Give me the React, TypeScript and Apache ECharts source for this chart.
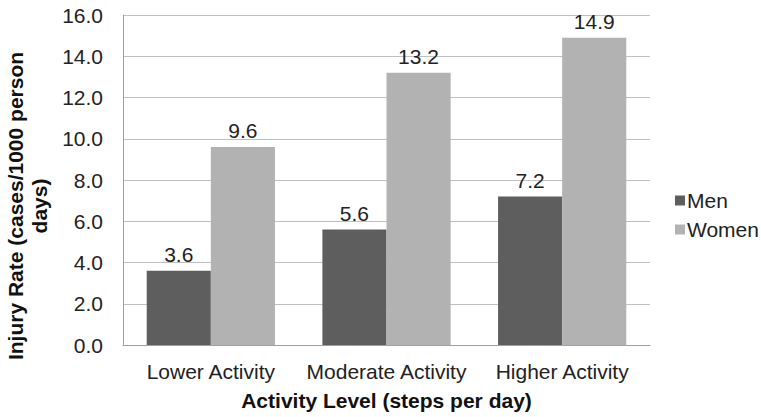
import React, { useEffect, useRef } from "react";
import * as echarts from "echarts";

const categories = ["Lower Activity", "Moderate Activity", "Higher Activity"];
const menValues = [3.6, 5.6, 7.2];
const womenValues = [9.6, 13.2, 14.9];
const seriesNames = ["Men", "Women"];

export default function App() {
  const ref = useRef<HTMLDivElement>(null);
  useEffect(() => {
    document.body.style.margin = "0";
    const chart = echarts.init(ref.current!, null, { renderer: "svg" });
    const font = "Liberation Sans, Arial, sans-serif";
    const fs = 21;
    const label = {
      show: true,
      position: "top",
      fontSize: fs,
      color: "#222",
      fontFamily: font,
      distance: 6,
      formatter: (p: any) => Number(p.value).toFixed(1),
    };
    chart.setOption({
      animation: false,
      textStyle: { fontFamily: font },
      grid: { left: 123, right: 111, top: 15, bottom: 72, outerBoundsMode: "none", containLabel: false },
      legend: {
        orient: "vertical",
        left: 670,
        top: 185,
        itemWidth: 10,
        itemHeight: 10,
        itemGap: 8,
        icon: "rect",
        textStyle: { fontSize: fs, color: "#222", fontFamily: font, padding: [0, 0, 0, -3] },
        data: seriesNames,
      },
      xAxis: {
        type: "category",
        data: categories,
        axisTick: { show: false },
        axisLine: { lineStyle: { color: "#a0a0a0", width: 1 } },
        axisLabel: { fontSize: fs, color: "#222", margin: 16, fontFamily: font, interval: 0 },
        name: "Activity Level (steps per day)",
        nameLocation: "middle",
        nameGap: 45,
        nameTextStyle: { fontSize: fs, fontWeight: "bold", color: "#111", fontFamily: font },
      },
      yAxis: {
        type: "value",
        min: 0,
        max: 16,
        interval: 2,
        axisLine: { show: true, lineStyle: { color: "#a0a0a0", width: 1 } },
        axisTick: { show: false },
        splitLine: { lineStyle: { color: "#c0c0c0", width: 1 } },
        axisLabel: {
          fontSize: fs,
          color: "#222",
          margin: 20,
          fontFamily: font,
          formatter: (v: number) => v.toFixed(1),
        },
        name: "Injury Rate (cases/1000 person\ndays)",
        nameLocation: "middle",
        nameGap: 67,
        nameTextStyle: {
          fontSize: fs,
          fontWeight: "bold",
          color: "#111",
          fontFamily: font,
          lineHeight: 24,
          align: "center",
          padding: [0, 52, 0, 0],
        },
      },
      series: [
        {
          name: seriesNames[0],
          type: "bar",
          data: menValues,
          itemStyle: { color: "#5e5e5e" },
          barGap: "0%",
          barCategoryGap: "27%",
          label,
        },
        {
          name: seriesNames[1],
          type: "bar",
          data: womenValues,
          itemStyle: { color: "#b2b2b2" },
          barGap: "0%",
          barCategoryGap: "27%",
          label,
        },
      ],
    });
    return () => chart.dispose();
  }, []);
  return <div ref={ref} style={{ width: 761, height: 417 }} />;
}
